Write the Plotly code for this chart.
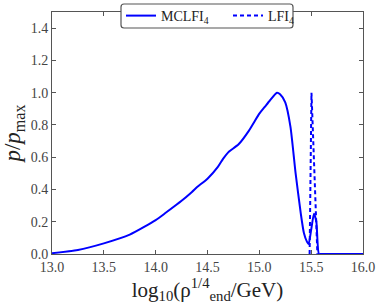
import plotly.graph_objects as go

# MCLFI4 posterior
x_mclfi = [13.0, 13.25, 13.5, 13.75, 14.0, 14.1, 14.25, 14.35, 14.4, 14.5, 14.6, 14.65, 14.7, 14.8, 14.9,
           15.0, 15.05, 15.1, 15.17, 15.2, 15.25, 15.3, 15.35, 15.4, 15.43, 15.46, 15.475, 15.5, 15.527,
           15.55, 15.575, 15.6, 16.0]
y_mclfi = [0.005, 0.025, 0.066, 0.12, 0.21, 0.257, 0.33, 0.385, 0.415, 0.467, 0.54, 0.59, 0.63, 0.68, 0.765,
           0.87, 0.91, 0.95, 1.0, 0.99, 0.94, 0.79, 0.50, 0.25, 0.13, 0.075, 0.062, 0.15, 0.25,
           0.2, 0.0, 0.0, 0.0]

# LFI4 posterior
x_lfi = [15.485, 15.503, 15.56]
y_lfi = [0.0, 1.0, 0.0]

x_ticks = [13.0, 13.5, 14.0, 14.5, 15.0, 15.5, 16.0]
y_ticks = [0.0, 0.2, 0.4, 0.6, 0.8, 1.0, 1.2, 1.4]

font = "Liberation Serif"
W, H = 381, 308
ML, MR, MT, MB = 52, 18, 12, 54
pw, ph = W - ML - MR, H - MT - MB


def px_x(p):
    return (p - ML) / pw


def px_y(p):
    return (H - MB - p) / ph


fig = go.Figure()
fig.add_trace(go.Scatter(x=x_mclfi, y=y_mclfi, mode="lines", name="MCLFI<sub>4</sub>",
                         line=dict(color="#0000ff", width=2, shape="spline", smoothing=0.6)))
fig.add_trace(go.Scatter(x=x_lfi, y=y_lfi, mode="lines", name="LFI<sub>4</sub>",
                         line=dict(color="#0000ff", width=2, dash="4px,3px")))

axis_common = dict(showgrid=False, zeroline=False, showline=True, linecolor="#555555", linewidth=1,
                   mirror="allticks", ticks="inside", ticklen=4, tickcolor="#555555",
                   tickfont=dict(family=font, size=14, color="#444444"))
fig.update_xaxes(range=[13.0, 16.0], tickvals=x_ticks, ticktext=[f"{v:.1f}" for v in x_ticks],
                 title=dict(text="log<sub>10</sub>(ρ<sup>1/4</sup><sub>end</sub>/GeV)",
                            font=dict(family=font, size=21, color="#222222"), standoff=0),
                 **axis_common)
fig.update_yaxes(range=[0, 1.5], tickvals=y_ticks, ticktext=[f"{v:.1f}" for v in y_ticks],
                 title=dict(text="<i>p</i>/<i>p</i><sub>max</sub>",
                            font=dict(family=font, size=23, color="#222222"), standoff=4),
                 **axis_common)

# rounded legend frame, built in pixels then converted to paper coordinates
x0, x1, y0, y1, r = 121, 293, 4, 28, 3
path = (f"M {x0 + r} {y0} L {x1 - r} {y0} Q {x1} {y0} {x1} {y0 + r} L {x1} {y1 - r} "
        f"Q {x1} {y1} {x1 - r} {y1} L {x0 + r} {y1} Q {x0} {y1} {x0} {y1 - r} "
        f"L {x0} {y0 + r} Q {x0} {y0} {x0 + r} {y0} Z")
out = []
ci = 0
for t in path.split():
    if t.isalpha():
        out.append(t)
        ci = 0
    else:
        v = float(t)
        out.append(f"{px_x(v):.5f}" if ci % 2 == 0 else f"{px_y(v):.5f}")
        ci += 1
paper_path = " ".join(out)

fig.add_shape(type="path", path=paper_path, xref="paper", yref="paper", layer="above",
              fillcolor="white", line=dict(color="#555555", width=1.2))

fig.update_layout(
    width=W, height=H,
    margin=dict(l=ML, r=MR, t=MT, b=MB, autoexpand=False),
    plot_bgcolor="white", paper_bgcolor="white",
    legend=dict(orientation="h", x=px_x(121), xanchor="left", y=px_y(16), yanchor="middle",
                bgcolor="rgba(0,0,0,0)", borderwidth=0, entrywidth=62, entrywidthmode="pixels",
                font=dict(family=font, size=14, color="#222222")),
)
fig.write_html("out.html", config={"displayModeBar": False},
               post_script="document.body.style.margin='0';document.body.style.overflow='hidden';")
